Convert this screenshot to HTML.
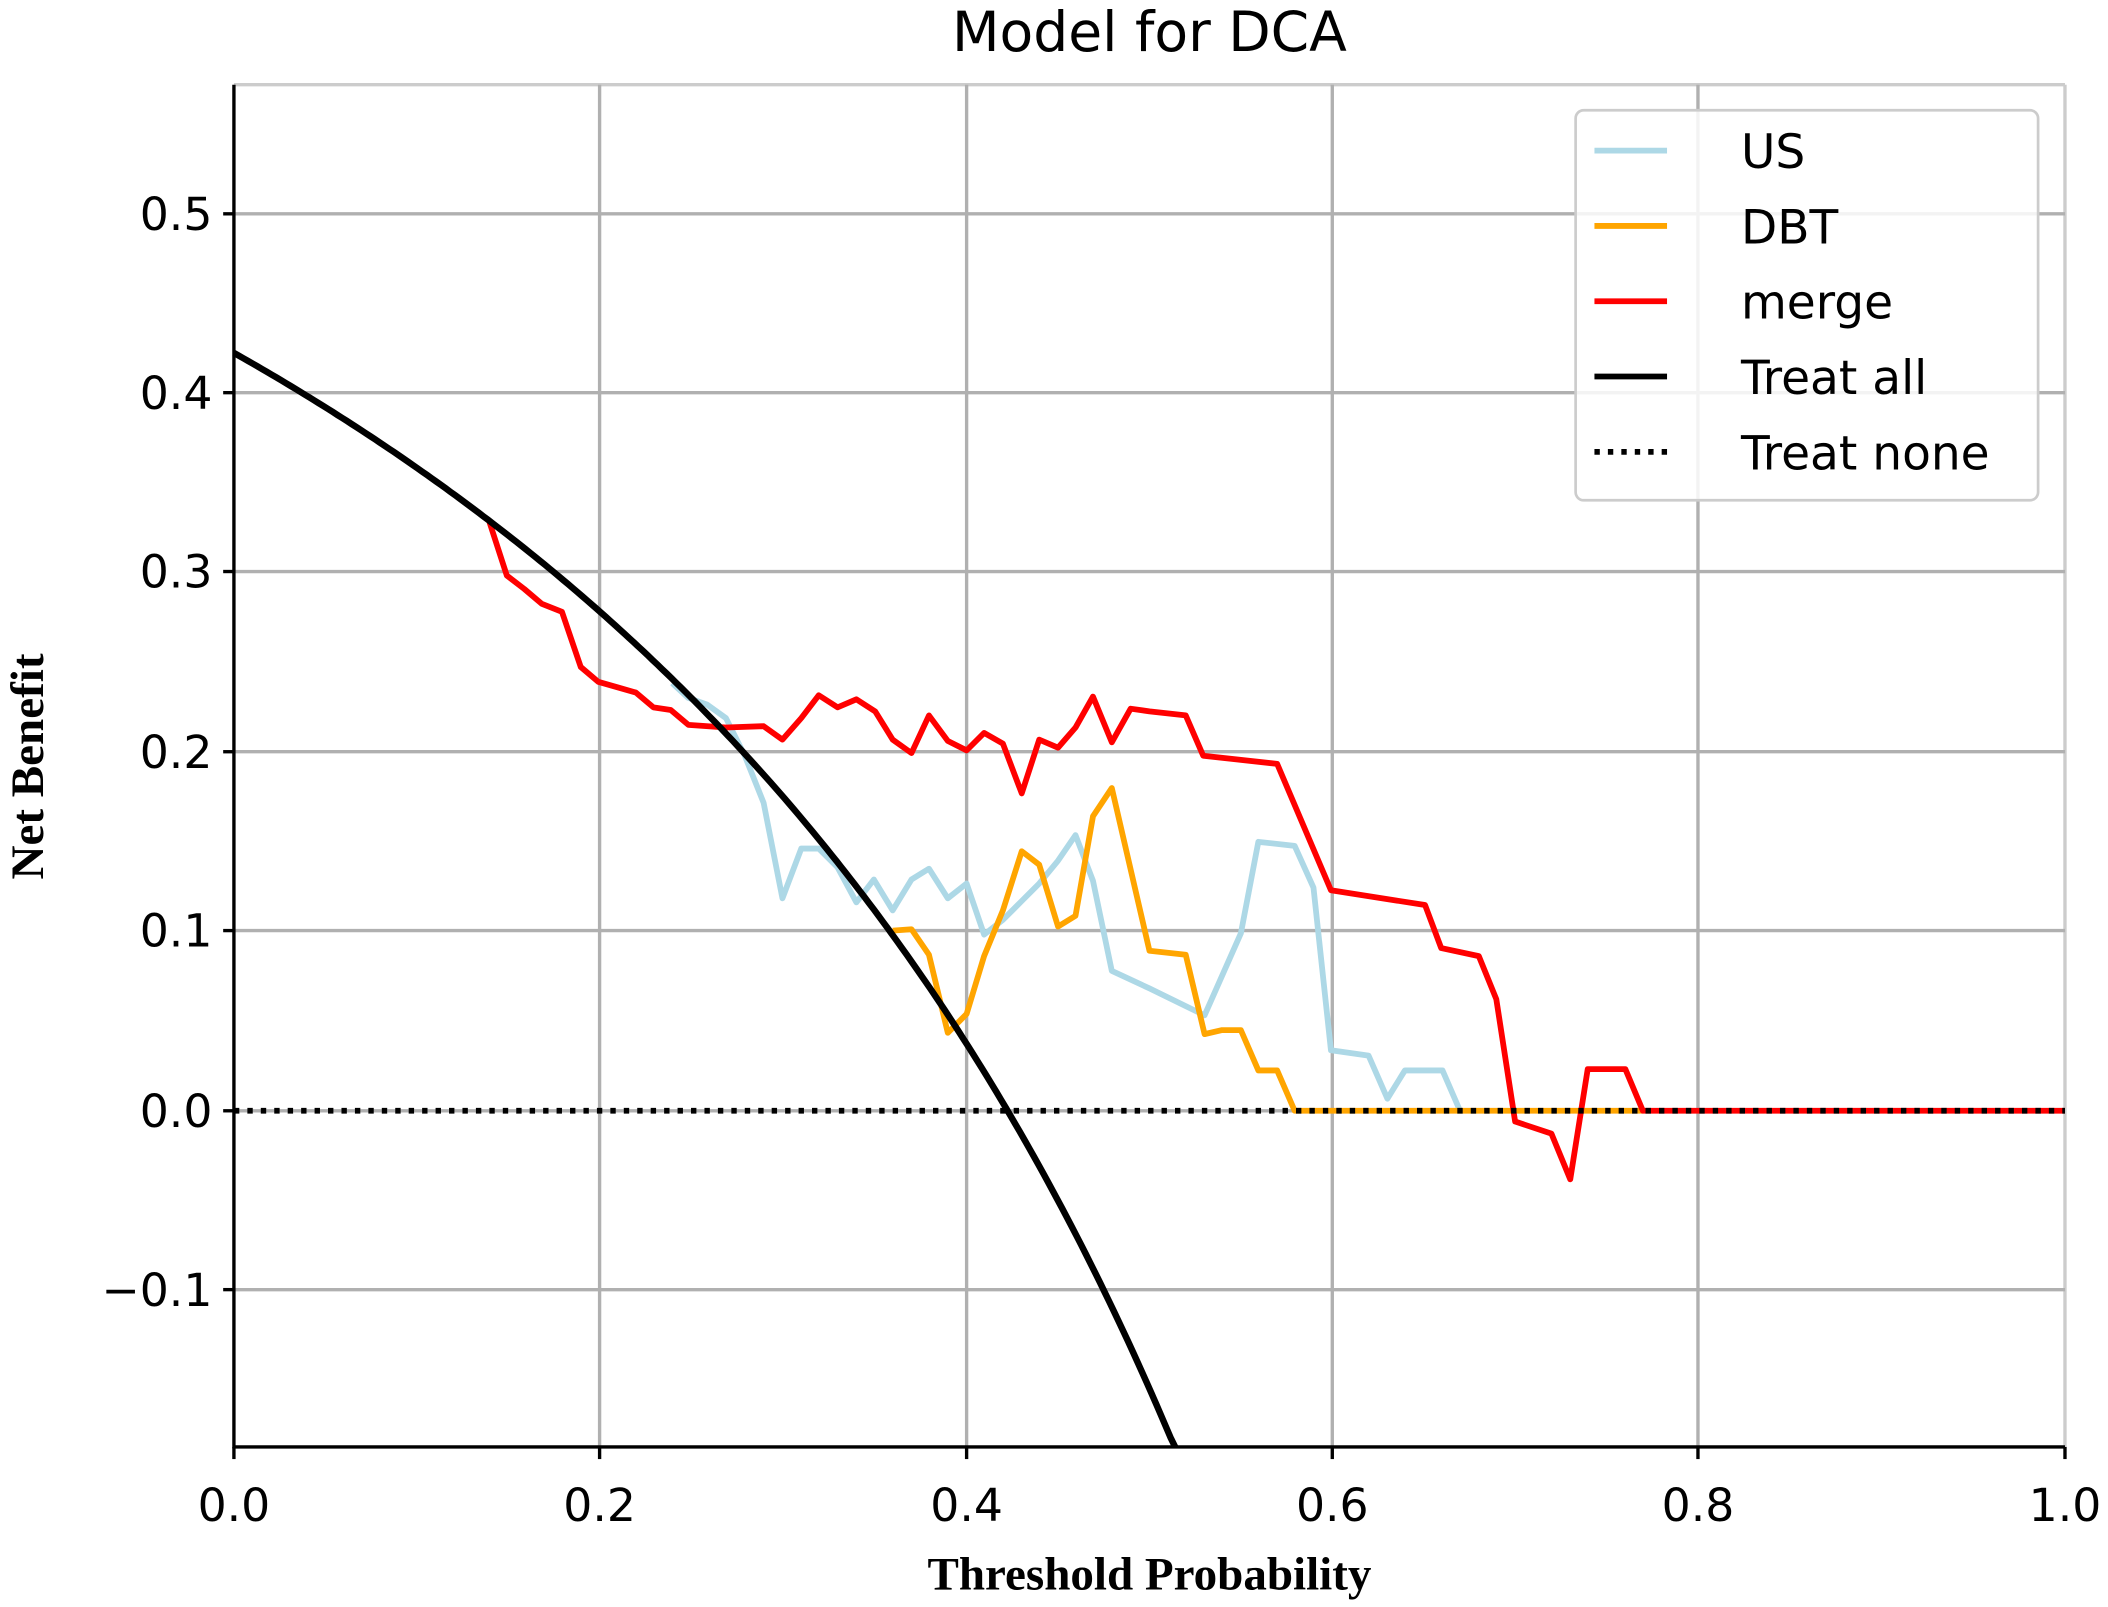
<!DOCTYPE html>
<html><head><meta charset="utf-8"><style>html,body{margin:0;padding:0;background:#fff}svg{display:block}</style></head>
<body>
<svg width="2108" height="1607" viewBox="0 0 1568 1195" preserveAspectRatio="none" xmlns="http://www.w3.org/2000/svg">
<rect width="1568" height="1195" fill="#fff"/>
<g stroke="#b0b0b0" stroke-width="2.5" fill="none">
<line x1="174" y1="63" x2="1536" y2="63" stroke="#ccc"/>
<line x1="1536" y1="63" x2="1536" y2="1076" stroke="#ccc"/>
<line x1="446" y1="63" x2="446" y2="1076"/><line x1="719" y1="63" x2="719" y2="1076"/>
<line x1="991" y1="63" x2="991" y2="1076"/><line x1="1263" y1="63" x2="1263" y2="1076"/>
<line x1="174" y1="159" x2="1536" y2="159"/><line x1="174" y1="292" x2="1536" y2="292"/>
<line x1="174" y1="425" x2="1536" y2="425"/><line x1="174" y1="559" x2="1536" y2="559"/>
<line x1="174" y1="692" x2="1536" y2="692"/><line x1="174" y1="826" x2="1536" y2="826"/>
<line x1="174" y1="959" x2="1536" y2="959"/>
</g>
<g fill="none" stroke-width="4.3" stroke-linejoin="round">
<polyline stroke="#add8e6" points="500,508 512,519 526,524 540,534 554,562 568,597 582,668 596,631 609,631 623,645 637,671 650,654 664,677 678,654 691,646 705,668 719,657 732,695 746,684 760,670 773,657 787,640 800,621 813,655 827,722 855,735 896,755 923,694 936,626 963,629 977,660 990,781 1018,785 1032,817 1045,796 1073,796 1086,826"/>
<polyline stroke="#ffa500" points="664,692 678,691 691,710 705,768 719,754 732,711 746,677 760,633 773,643 787,689 800,681 813,607 827,586 855,707 882,710 896,769 909,766 923,766 936,796 950,796 963,826 1222,826"/>
<polyline stroke="#ff0000" points="364,388 377,428 390,438 403,449 418,455 432,496 445,507 459,511 473,515 486,526 499,528 512,539 540,541 568,540 582,550 596,534 609,517 623,526 637,520 651,529 664,550 678,560 691,532 705,551 719,558 732,545 746,553 760,590 773,550 787,556 800,541 813,518 827,552 841,527 855,529 882,532 895,562 950,568 990,662 1060,673 1072,705 1100,711 1113,743 1127,834 1154,843 1168,877 1181,795 1209,795 1222,826 1536,826"/>
<path id="ta" stroke="#000" stroke-width="4.8" d=""/>
<line x1="174" y1="826" x2="1536" y2="826" stroke="#000" stroke-dasharray="4,6"/>
</g>
<g stroke="#000" stroke-width="2.5">
<line x1="174" y1="63" x2="174" y2="1077"/><line x1="173" y1="1076" x2="1536" y2="1076"/>
<line x1="166" y1="159" x2="174" y2="159"/><line x1="166" y1="292" x2="174" y2="292"/><line x1="166" y1="425" x2="174" y2="425"/><line x1="166" y1="559" x2="174" y2="559"/><line x1="166" y1="692" x2="174" y2="692"/><line x1="166" y1="826" x2="174" y2="826"/><line x1="166" y1="959" x2="174" y2="959"/>
<line x1="174" y1="1076" x2="174" y2="1085"/><line x1="446" y1="1076" x2="446" y2="1085"/><line x1="719" y1="1076" x2="719" y2="1085"/><line x1="991" y1="1076" x2="991" y2="1085"/><line x1="1263" y1="1076" x2="1263" y2="1085"/><line x1="1536" y1="1076" x2="1536" y2="1085"/>
</g>
<g font-family="'DejaVu Sans', 'Liberation Sans', sans-serif" font-size="34" fill="#000">
<g text-anchor="end">
<text x="158" y="171">0.5</text><text x="158" y="304">0.4</text><text x="158" y="437">0.3</text><text x="158" y="571">0.2</text><text x="158" y="704">0.1</text><text x="158" y="838">0.0</text><text x="158" y="971">−0.1</text>
</g>
<g text-anchor="middle">
<text x="174" y="1131">0.0</text><text x="446" y="1131">0.2</text><text x="719" y="1131">0.4</text><text x="991" y="1131">0.6</text><text x="1263" y="1131">0.8</text><text x="1536" y="1131">1.0</text>
<text x="855" y="38" font-size="41">Model for DCA</text>
</g>
</g>
<g font-family="'Liberation Serif', serif" font-weight="bold" font-size="35" fill="#000" text-anchor="middle">
<text x="855" y="1182">Threshold Probability</text>
<text transform="translate(32,570) rotate(-90)">Net Benefit</text>
</g>
<rect x="1172" y="82" width="344" height="290" rx="6" fill="#fff" fill-opacity="0.85" stroke="#ccc" stroke-width="2"/>
<g stroke-width="4.3">
<line x1="1186" y1="112" x2="1240" y2="112" stroke="#add8e6"/>
<line x1="1186" y1="168" x2="1240" y2="168" stroke="#ffa500"/>
<line x1="1186" y1="224" x2="1240" y2="224" stroke="#ff0000"/>
<line x1="1186" y1="280" x2="1240" y2="280" stroke="#000"/>
<line x1="1186" y1="336" x2="1240" y2="336" stroke="#000" stroke-dasharray="4,6"/>
</g>
<g font-family="'DejaVu Sans', 'Liberation Sans', sans-serif" font-size="35" fill="#000">
<text x="1295" y="125">US</text><text x="1295" y="181">DBT</text><text x="1295" y="237">merge</text><text x="1295" y="293">Treat all</text><text x="1295" y="349">Treat none</text>
</g>
<script>
var p=0.4225,d="";
for(var i=0;i<=200;i++){var t=i/200*0.514;var nb=p-(1-p)*t/(1-t);var x=174+1362*t,y=826-1334*nb;if(y>1076)y=1076;d+=(i?"L":"M")+x.toFixed(1)+","+y.toFixed(1);}
document.getElementById("ta").setAttribute("d",d);
</script>
</svg>
</body></html>
